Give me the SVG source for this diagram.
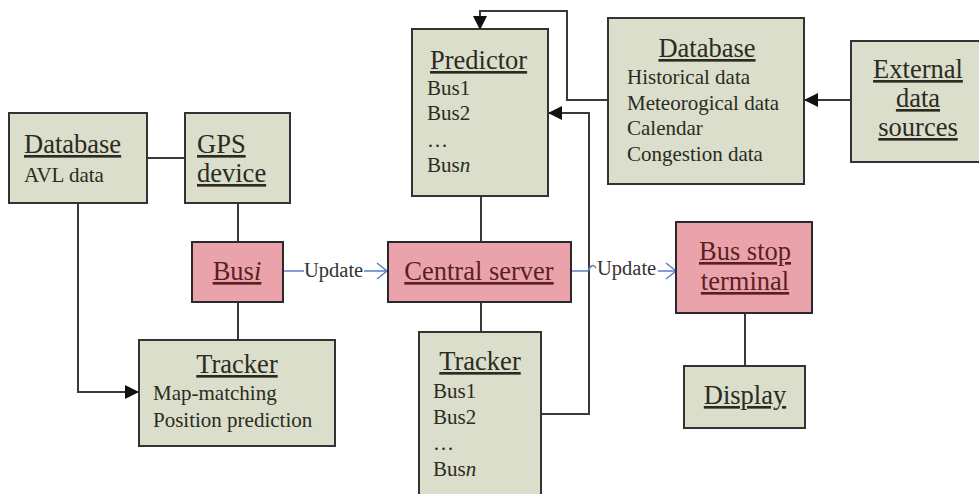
<svg xmlns="http://www.w3.org/2000/svg" width="979" height="494" viewBox="0 0 979 494">
  <style>
    .box { fill: #dadecb; stroke: #333333; stroke-width: 2; }
    .hot { fill: #eba3ab; stroke: #2a2a2a; stroke-width: 2; }
    .t { font-family: "Liberation Serif", "Times New Roman", serif; fill: #2b2b22; }
    .title { font-size: 26.5px; text-decoration: underline; }
    .hot-t { fill: #5a1f25; }
    .body { font-size: 21px; }
    .lbl { font-size: 20.5px; fill: #333333; }
    .wire { fill: none; stroke: #3a3a3a; stroke-width: 2; }
    .flow { fill: none; stroke: #5b7fc7; stroke-width: 1.5; }
  </style>
  <defs>
    <marker id="head" markerWidth="14" markerHeight="14" refX="13" refY="7" orient="auto" markerUnits="userSpaceOnUse">
      <path d="M0,0 L14,7 L0,14 Z" fill="#111111"/>
    </marker>
  </defs>
  <rect width="979" height="494" fill="#ffffff"/>

  <!-- connectors -->
  <g id="connectors">
    <line class="wire" x1="147" y1="158" x2="185" y2="158"/>
    <line class="wire" x1="238" y1="203" x2="238" y2="242"/>
    <line class="wire" x1="238" y1="302" x2="238" y2="340"/>
    <polyline class="wire" points="78,203 78,392 138,392" marker-end="url(#head)"/>
    <line class="wire" x1="481" y1="196" x2="481" y2="242"/>
    <line class="wire" x1="481" y1="302" x2="481" y2="347"/>
    <polyline class="wire" points="541,414 589,414 589,113 549,113" marker-end="url(#head)"/>
    <polyline class="wire" points="608,100 567,100 567,11 480,11 480,29" marker-end="url(#head)"/>
    <line class="wire" x1="851" y1="100" x2="805" y2="100" marker-end="url(#head)"/>
    <line class="wire" x1="745" y1="313" x2="745" y2="366"/>
    <!-- update flows -->
    <line class="flow" x1="283" y1="271" x2="304" y2="271"/>
    <text class="t lbl" x="304" y="277">Update</text>
    <path class="flow" d="M364,271 L387,271 M377,263 L387,271 L377,279"/>
    <path class="flow" d="M571,271 L588,271 Q592,262 596,268"/>
    <text class="t lbl" x="597" y="275">Update</text>
    <path class="flow" d="M658,271 L676,271 M666,263 L676,271 L666,279"/>
  </g>

  <g id="db-avl">
    <rect class="box" x="9" y="113" width="138" height="90"/>
    <text class="t title" x="24" y="153">Database</text>
    <text class="t body" x="24" y="182">AVL data</text>
  </g>

  <g id="gps">
    <rect class="box" x="185" y="113" width="105" height="90"/>
    <text class="t title" x="197" y="153">GPS</text>
    <text class="t title" x="197" y="182">device</text>
  </g>

  <g id="bus-i">
    <rect class="hot" x="192" y="242" width="91" height="60"/>
    <text class="t title hot-t" x="237" y="280" text-anchor="middle">Bus<tspan font-style="italic">i</tspan></text>
  </g>

  <g id="tracker-local">
    <rect class="box" x="139" y="340" width="196" height="106"/>
    <text class="t title" x="237" y="373" text-anchor="middle">Tracker</text>
    <text class="t body" x="153" y="400">Map-matching</text>
    <text class="t body" x="153" y="427">Position prediction</text>
  </g>

  <g id="predictor">
    <rect class="box" x="412" y="29" width="136" height="167"/>
    <text class="t title" x="430" y="69">Predictor</text>
    <text class="t body" x="427" y="95">Bus1</text>
    <text class="t body" x="427" y="120">Bus2</text>
    <text class="t body" x="427" y="147">…</text>
    <text class="t body" x="427" y="172">Bus<tspan font-style="italic">n</tspan></text>
  </g>

  <g id="central-server">
    <rect class="hot" x="388" y="242" width="183" height="60"/>
    <text class="t title hot-t" x="479" y="280" text-anchor="middle">Central server</text>
  </g>

  <g id="tracker-server">
    <rect class="box" x="419" y="332" width="122" height="180"/>
    <text class="t title" x="480" y="370" text-anchor="middle">Tracker</text>
    <text class="t body" x="433" y="398">Bus1</text>
    <text class="t body" x="433" y="424">Bus2</text>
    <text class="t body" x="433" y="450">…</text>
    <text class="t body" x="433" y="476">Bus<tspan font-style="italic">n</tspan></text>
  </g>

  <g id="db-history">
    <rect class="box" x="608" y="18" width="196" height="166"/>
    <text class="t title" x="707" y="57" text-anchor="middle">Database</text>
    <text class="t body" x="627" y="84">Historical data</text>
    <text class="t body" x="627" y="110">Meteorogical data</text>
    <text class="t body" x="627" y="135">Calendar</text>
    <text class="t body" x="627" y="161">Congestion data</text>
  </g>

  <g id="external">
    <rect class="box" x="851" y="41" width="140" height="121"/>
    <text class="t title" x="918" y="78" text-anchor="middle">External</text>
    <text class="t title" x="918" y="107" text-anchor="middle">data</text>
    <text class="t title" x="918" y="136" text-anchor="middle">sources</text>
  </g>

  <g id="bus-stop">
    <rect class="hot" x="676" y="222" width="136" height="91"/>
    <text class="t title hot-t" x="745" y="260" text-anchor="middle">Bus stop</text>
    <text class="t title hot-t" x="745" y="290" text-anchor="middle">terminal</text>
  </g>

  <g id="display">
    <rect class="box" x="684" y="366" width="121" height="62"/>
    <text class="t title" x="745" y="404" text-anchor="middle">Display</text>
  </g>
</svg>
